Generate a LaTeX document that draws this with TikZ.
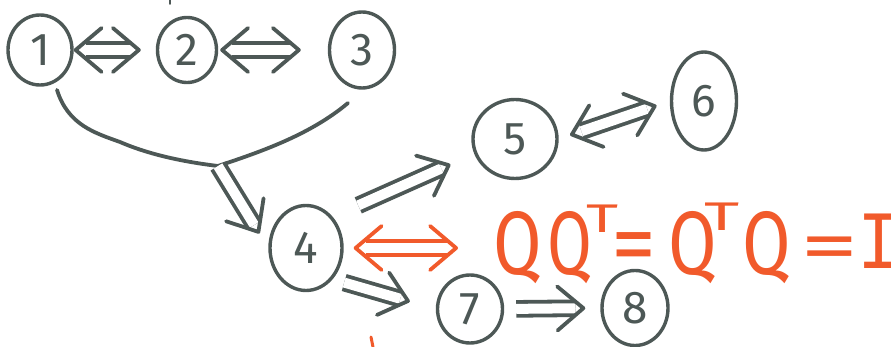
\documentclass[tikz,border=0pt]{standalone}
\usepackage{fontspec}
\setmainfont{Fira Sans}
\newfontfamily\monoI{Liberation Mono}
\usetikzlibrary{shapes.geometric,arrows.meta}
\definecolor{ink}{HTML}{4D5856}
\definecolor{redink}{HTML}{F15A2B}
\tikzset{
  one/.style={-{Straight Barb[color=#1,round,line width=3.8pt,length=26pt,width=44pt]}},
  two/.style={{Straight Barb[color=#1,round,line width=3.8pt,length=26pt,width=44pt]}-{Straight Barb[color=#1,round,line width=3.8pt,length=26pt,width=44pt]}},
  dline/.style={draw=#1,double=white,double distance=10pt,line width=3.8pt,line cap=butt},
  cline/.style={draw=white,line width=0.3pt}
}
% #1 colour, #2 one/two, #3 shorten start, #4 shorten end, #5 line start extra, #6 path
\newcommand\dblarrow[6]{%
  \draw[dline=#1,shorten <=#3+#5,shorten >=#4+10pt] #6;
  \draw[cline,#2=#1,shorten <=#3,shorten >=#4] #6;}
\begin{document}
\begin{tikzpicture}[x=1pt,y=-1pt,
  nd/.style={ellipse,draw=ink,line width=3.4pt,text=ink,inner sep=0pt,
    font=\fontsize{46}{46}\selectfont},
  stroke/.style={draw=ink,line width=3.8pt,line cap=round}]
\useasboundingbox (0,0) rectangle (891,347);
\node[nd,minimum width=64pt,minimum height=70pt] (n1) at (40,50) {1};
\node[nd,minimum width=59pt,minimum height=65pt] (n2) at (187,50) {2};
\node[nd,minimum width=65pt,minimum height=76pt] (n3) at (362,50) {3};
\node[nd,minimum width=72pt,minimum height=85pt] (n4) at (306,248) {4};
\node[nd,minimum width=84pt,minimum height=79pt] (n5) at (515,139) {5};
\node[nd,minimum width=65pt,minimum height=98pt] (n6) at (704,101) {6};
\node[nd,minimum width=65pt,minimum height=68pt] (n7) at (470,309) {7};
\node[nd,minimum width=66pt,minimum height=75pt] (n8) at (635,308) {8};
% equation
\node[anchor=base west,text=redink,inner sep=0pt,font=\fontsize{90}{90}\selectfont] (eq) at (493,275)
  {\raisebox{0pt}[\height][0pt]{%
   \scalebox{0.78}[1]{Q}\kern6pt\scalebox{0.72}[1]{Q}\kern-6pt\raisebox{42pt}{\scalebox{1.55}[1]{\fontsize{40}{40}\selectfont T}}%
   \kern-7pt\scalebox{1}[1]{=}%
   \kern12pt\scalebox{0.78}[1]{Q}\kern-13pt\raisebox{44pt}{\scalebox{1.7}[1]{\fontsize{40}{40}\selectfont T}}%
   \kern3pt\scalebox{0.78}[1]{Q}\kern10pt\raisebox{4pt}{\scalebox{1.3}[0.8]{=}}%
   \kern-2pt\raisebox{6pt}{\monoI\scalebox{0.8}[0.92]{I}}}};
% arrows
\dblarrow{ink}{two}{0pt}{15pt}{12pt}{(n1.east) -- (n2.west)}
\dblarrow{ink}{two}{2pt}{27pt}{12pt}{(n2.east) -- (n3.west)}
\coordinate (m) at (218,166);
\draw[stroke] (57,90) .. controls (68,125) and (95,133) .. (120,142)
  .. controls (150,155) and (185,162) .. (m);
\draw[stroke] (348,103) .. controls (310,135) and (260,152) .. (m);
\dblarrow{ink}{one}{0pt}{17pt}{0pt}{(m) -- (n4.west)}
\dblarrow{ink}{one}{28pt}{26pt}{0pt}{(n4.north east) -- (n5.200)}
\dblarrow{ink}{two}{12pt}{14pt}{12pt}{(n5.east) -- (n6.west)}
\dblarrow{redink}{two}{10pt}{35pt}{12pt}{(n4.east) -- (eq.west |- n4.east)}
\dblarrow{ink}{one}{12pt}{27pt}{0pt}{(n4.south east) -- (n7.west)}
\dblarrow{ink}{one}{12pt}{15pt}{0pt}{(n7.east) -- (n8.west)}
% stray marks
\draw[stroke,line width=2pt] (170,0) -- (170,4);
\draw[draw=redink,line width=3pt,line cap=round] (371,337) -- (373,347);
\end{tikzpicture}
\end{document}
